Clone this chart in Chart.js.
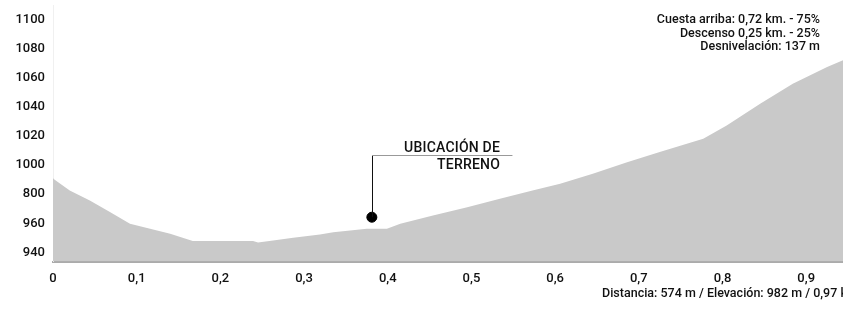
<!DOCTYPE html>
<html>
<head>
<meta charset="utf-8">
<script src="https://cdn.jsdelivr.net/npm/chart.js@4/dist/chart.umd.min.js"></script>
<style>
  html, body { margin: 0; padding: 0; background: #fff; }
  #wrap { width: 843px; height: 313px; position: relative; }
</style>
</head>
<body>
<div id="wrap"><canvas id="c" width="843" height="313"></canvas></div>
<script>
// Distance along route (km)
const distKm = [0, 0.002, 0.020, 0.044, 0.068, 0.092, 0.116, 0.140, 0.167, 0.203, 0.239, 0.245, 0.263, 0.287, 0.319, 0.335, 0.375, 0.399, 0.415, 0.454, 0.495, 0.534, 0.573, 0.606, 0.645, 0.686, 0.725, 0.777, 0.805, 0.845, 0.884, 0.925, 0.944];
// Elevation (m)
const elevM = [991, 990, 982.6, 975.7, 967.7, 959.7, 956.3, 952.8, 947.8, 947.8, 947.8, 946.9, 948.2, 950.1, 952.4, 953.9, 956.3, 956.3, 959.7, 965.4, 971.1, 976.9, 982.6, 987.2, 994.0, 1002.0, 1008.9, 1018.1, 1027.2, 1042.1, 1055.8, 1067.3, 1071.9];
// Marker for the site location
const siteKm = [0.381];
const siteElev = [964.2];
const siteLabel = ["UBICACIÓN DE", "TERRENO"];
// Tick values and their printed labels (original shows "800" at 980)
const yTickValues = [940, 960, 980, 1000, 1020, 1040, 1060, 1080, 1100];
const yTickLabels = ["940", "960", "800", "1000", "1020", "1040", "1060", "1080", "1100"];
const xTickValues = [0, 0.1, 0.2, 0.3, 0.4, 0.5, 0.6, 0.7, 0.8, 0.9];
const xTickLabels = ["0", "0,1", "0,2", "0,3", "0,4", "0,5", "0,6", "0,7", "0,8", "0,9"];
// Summary texts
const summaryLines = ["Cuesta arriba: 0,72 km. - 75%", "Descenso 0,25 km. - 25%", "Desnivelación: 137 m"];
const footerText = "Distancia: 574 m / Elevación: 982 m / 0,97 km";

const FONT = "Roboto, 'Liberation Sans', Arial, sans-serif";

const annotPlugin = {
  id: 'annot',
  afterDatasetsDraw(chart) {
    const ctx = chart.ctx;
    const xs = chart.scales.x, ys = chart.scales.y;
    const px = xs.getPixelForValue(siteKm[0]);
    const py = ys.getPixelForValue(siteElev[0]);
    const lineY = ys.getPixelForValue(1006.6);
    const lineEndX = xs.getPixelForValue(0.549);
    ctx.save();
    ctx.strokeStyle = '#111';
    ctx.lineWidth = 1;
    ctx.beginPath();
    ctx.moveTo(Math.round(px) + 0.5, py);
    ctx.lineTo(Math.round(px) + 0.5, Math.round(lineY) + 0.5);
    ctx.stroke();
    ctx.strokeStyle = '#999';
    ctx.beginPath();
    ctx.moveTo(Math.round(px), Math.round(lineY) + 0.5);
    ctx.lineTo(lineEndX, Math.round(lineY) + 0.5);
    ctx.stroke();
    ctx.fillStyle = '#111';
    ctx.font = "500 14px " + FONT;
    ctx.textAlign = 'right';
    ctx.textBaseline = 'middle';
    try { ctx.letterSpacing = '0.2px'; } catch (e) {}
    ctx.fillText(siteLabel[0], 500, lineY - 7);
    ctx.fillText(siteLabel[1], 500, lineY + 10);
    try { ctx.letterSpacing = '0px'; } catch (e) {}
    // summary top-right
    ctx.font = "500 12.5px " + FONT;
    summaryLines.forEach((t, i) => ctx.fillText(t, 820, 20 + i * 13.6));
    // footer
    ctx.textAlign = 'left';
    ctx.fillText(footerText, 602, 294);
    ctx.restore();
  }
};

new Chart(document.getElementById('c'), {
  type: 'line',
  data: {
    datasets: [
      {
        data: distKm.map((d, i) => ({ x: d, y: elevM[i] })),
        fill: 'start',
        backgroundColor: '#c9c9c9',
        borderWidth: 0,
        pointRadius: 0,
        tension: 0
      },
      {
        type: 'scatter',
        data: siteKm.map((d, i) => ({ x: d, y: siteElev[i] })),
        pointRadius: 5,
        pointBackgroundColor: '#000',
        pointBorderColor: '#000',
        showLine: false
      }
    ]
  },
  options: {
    responsive: false,
    animation: false,
    devicePixelRatio: 1,
    layout: { autoPadding: false, padding: { top: 5.4, right: 0, left: 0, bottom: 0 } },
    plugins: { legend: { display: false }, tooltip: { enabled: false } },
    scales: {
      x: {
        type: 'linear',
        min: 0, max: 0.944,
        afterBuildTicks: s => { s.ticks = xTickValues.map(v => ({ value: v })); },
        afterFit: s => { s.height = 51.5; s.paddingLeft = 0; s.paddingRight = 0; },
        grid: { display: false, drawTicks: false },
        border: { display: true, color: '#ababab', width: 2 },
        ticks: {
          padding: 9,
          color: '#111',
          font: { family: FONT, size: 13, weight: '500' },
          maxRotation: 0,
          autoSkip: false,
          callback: (v) => { const i = xTickValues.findIndex(t => Math.abs(t - v) < 1e-6); return i >= 0 ? xTickLabels[i] : ''; }
        }
      },
      y: {
        min: 933.8, max: 1109.6,
        afterBuildTicks: s => { s.ticks = yTickValues.map(v => ({ value: v })); },
        afterFit: s => { s.width = 53; s.paddingTop = 0; s.paddingBottom = 0; },
        grid: { display: false, drawTicks: false },
        border: { display: true, color: '#f0f0f0', width: 1 },
        ticks: {
          padding: 8,
          color: '#111',
          font: { family: FONT, size: 13, weight: '500' },
          autoSkip: false,
          callback: (v) => { const i = yTickValues.indexOf(v); return i >= 0 ? yTickLabels[i] : ''; }
        }
      }
    }
  },
  plugins: [annotPlugin]
});
</script>
</body>
</html>
